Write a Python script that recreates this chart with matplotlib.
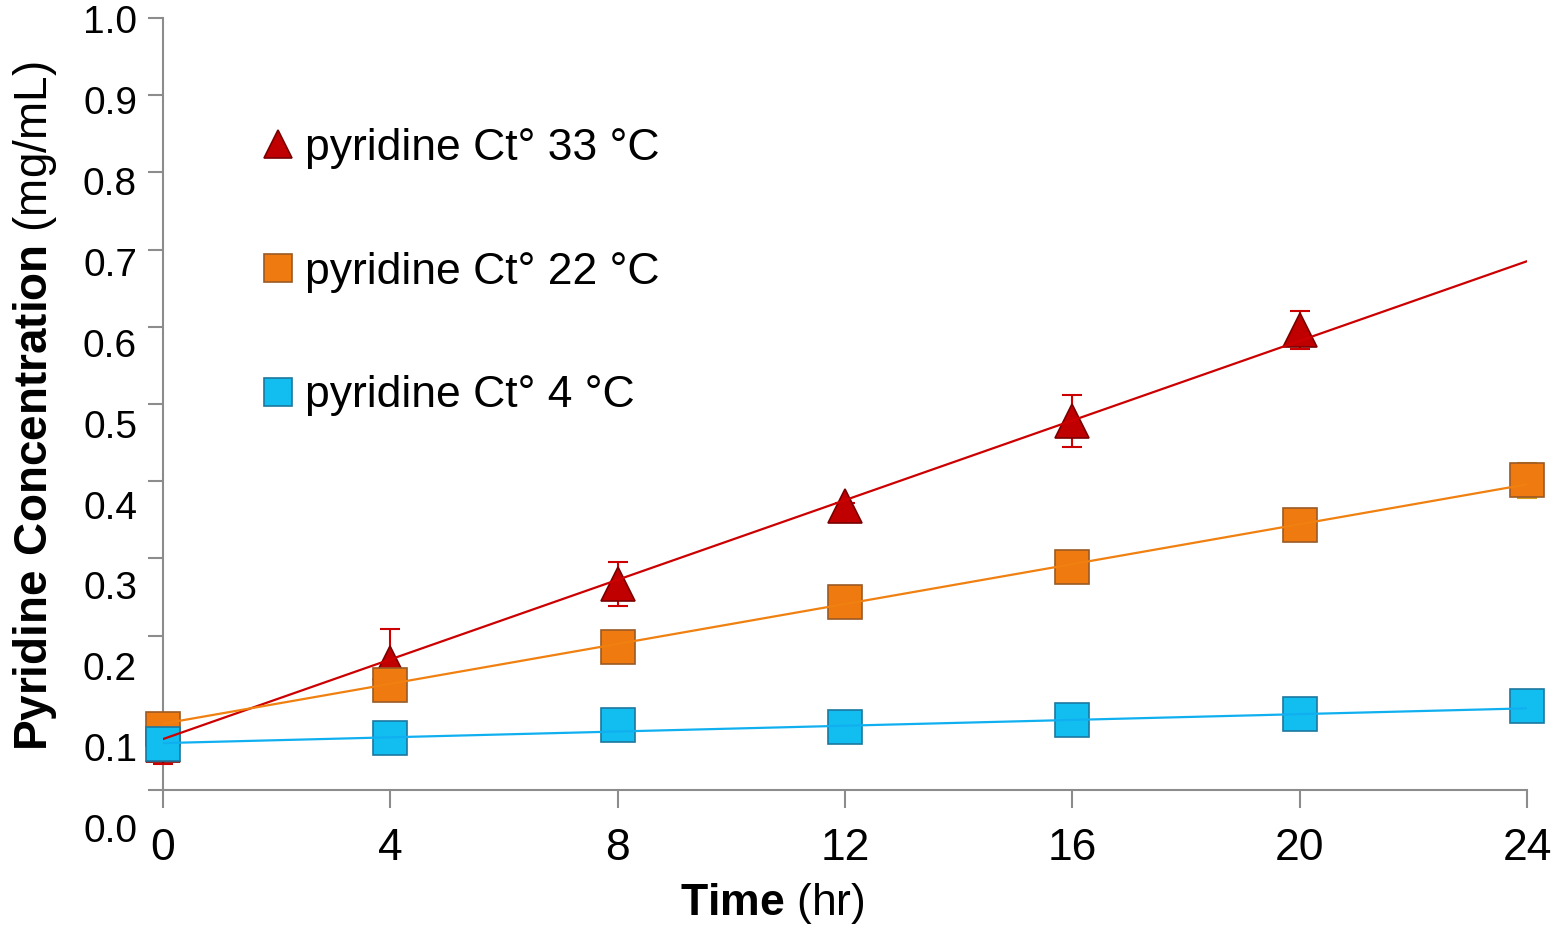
import matplotlib.pyplot as plt
import matplotlib.transforms as mtransforms
import numpy as np

plt.rcParams['font.family'] = ['Liberation Sans', 'DejaVu Sans']
plt.rcParams['mathtext.fontset'] = 'custom'
plt.rcParams['mathtext.rm'] = 'Liberation Sans'
plt.rcParams['mathtext.bf'] = 'Liberation Sans:bold'

# data
hours = [0, 4, 8, 12, 16, 20, 24]
hours_33 = [0, 4, 8, 12, 16, 20]
conc_33 = [0.108, 0.209, 0.307, 0.403, 0.508, 0.621]
err_33 = [0.024, 0.042, 0.027, 0.004, 0.032, 0.024]
conc_22 = [0.127, 0.182, 0.229, 0.284, 0.328, 0.380, 0.435]
err_22 = [0.008, 0.008, 0.008, 0.006, 0.008, 0.008, 0.022]
conc_4 = [0.109, 0.116, 0.132, 0.130, 0.139, 0.146, 0.156]
err_4 = [0.005, 0.005, 0.005, 0.005, 0.005, 0.005, 0.005]

# linear trendlines as drawn (value at 0 h and at 24 h)
trend_hours = [0, 24]
trend_33 = [0.115, 0.706]
trend_22 = [0.134, 0.430]
trend_4 = [0.110, 0.153]

y_labels = ['0.0', '0.1', '0.2', '0.3', '0.4', '0.5', '0.6', '0.7', '0.8', '0.9', '1.0']
legend_names = ['pyridine Ct° 33 °C', 'pyridine Ct° 22 °C', 'pyridine Ct° 4 °C']

grey = '#8c8c8c'

fig = plt.figure(figsize=(15.62, 9.26), dpi=100)
ax = fig.add_axes([163 / 1562, 136 / 926, 1364 / 1562, 772 / 926])

ylo, yhi = 0.052, 1.0068
ax.set_xlim(0, 24)
ax.set_ylim(ylo, yhi)

series = [
    (hours_33, conc_33, err_33, '^', '#c00000', '#7a0000', '#cc0000', legend_names[0]),
    (hours, conc_22, err_22, 's', '#ef7a0f', '#9a5a25', '#d4a017', legend_names[1]),
    (hours, conc_4, err_4, 's', '#12bdf0', '#1c78a0', '#1c78a0', legend_names[2]),
]
z = 3
for x, y, e, mk, fc, ec, errc, name in series:
    ax.errorbar(x, y, yerr=e, fmt='none', ecolor=errc, elinewidth=1.5,
                capsize=7, capthick=1.5, zorder=z, clip_on=False)
    ax.plot(x, y, linestyle='none', marker=mk, markersize=24, markerfacecolor=fc,
            markeredgecolor=ec, markeredgewidth=1.2, label=name, zorder=z + 0.5,
            clip_on=False)
    z += 1

ax.plot(trend_hours, trend_33, color='#cc0000', lw=1.6, zorder=7)
ax.plot(trend_hours, trend_22, color='#f08010', lw=1.6, zorder=7)
ax.plot(trend_hours, trend_4, color='#10b0f0', lw=1.6, zorder=7)

for side in ['top', 'right']:
    ax.spines[side].set_visible(False)
for side in ['left', 'bottom']:
    ax.spines[side].set_color(grey)
    ax.spines[side].set_linewidth(1.5)

ax.set_xticks(hours)
ax.tick_params(axis='x', length=13, width=1.5, color=grey, labelsize=32, pad=14)
ax.set_yticks(np.linspace(ylo, yhi, 11))
ax.tick_params(axis='y', length=11, width=1.5, color=grey, labelleft=False)

# y labels sit on their own scale, as in the original
trans = mtransforms.blended_transform_factory(ax.transAxes, ax.transData)
for lab in y_labels:
    ax.text(-0.019, float(lab), lab, transform=trans, ha='right', va='center',
            fontsize=28, clip_on=False)

ax.set_xlabel(r'$\mathbf{Time}$ (hr)', fontsize=32)
ax.xaxis.set_label_coords(0.447, -0.118)
ax.set_ylabel(r'$\mathbf{Pyridine\ Concentration}$ (mg/mL)', fontsize=33)
ax.yaxis.set_label_coords(-0.076, 0.497)

ax.legend(loc='upper left', bbox_to_anchor=(256 / 1562, 1 - 128 / 926),
          bbox_transform=fig.transFigure, frameon=False, fontsize=32,
          markerscale=0.85, handlelength=1.0, handletextpad=0.1,
          labelspacing=1.86, borderpad=0, borderaxespad=0)

fig.savefig('out.png', dpi=100)
